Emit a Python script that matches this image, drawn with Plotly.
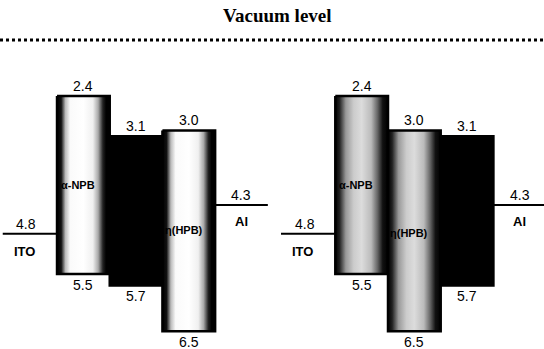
import plotly.graph_objects as go

# ---- data ----
left_names = ["α-NPB", "", "η(HPB)"]
left_lumo = [2.4, 3.1, 3.0]
left_homo = [5.5, 5.7, 6.5]
left_kind = ["light", "dark", "light"]

right_names = ["α-NPB", "η(HPB)", ""]
right_lumo = [2.4, 3.0, 3.1]
right_homo = [5.5, 6.5, 5.7]
right_kind = ["grey", "grey", "dark"]

ito_wf = 4.8
al_wf = 4.3
title_text = "Vacuum level"

# ---- styling / layout ----
light_scale = [[0, "#000"], [0.08, "#111"], [0.16, "#bbb"], [0.25, "#fafafa"], [0.5, "#fff"],
               [0.68, "#f0f0f0"], [0.78, "#aaa"], [0.87, "#222"], [0.93, "#000"], [1, "#000"]]
grey_scale = [[0, "#000"], [0.08, "#222"], [0.2, "#999"], [0.35, "#ccc"], [0.5, "#dcdcdc"],
              [0.68, "#bbb"], [0.8, "#666"], [0.9, "#111"], [1, "#000"]]
dark_scale = [[0, "#000"], [1, "#000"]]
scales = {"light": light_scale, "grey": grey_scale, "dark": dark_scale}

num_font = dict(family="Liberation Sans Narrow, Liberation Sans, Arial", size=14, color="black")
lab_font = dict(family="Liberation Sans, Arial", size=13, color="black")
name_font = dict(family="Liberation Sans Narrow, Liberation Sans, Arial", size=11, color="black")

fig = go.Figure()
annotations = []

def add_diagram(x0, names, lumo, homo, kinds, name_y):
    fig.add_trace(go.Scatter(x=[x0 - 1.03, x0], y=[ito_wf, ito_wf], mode="lines",
                             line=dict(color="black", width=2), hoverinfo="skip"))
    annotations.append(dict(x=x0 - 0.58, y=ito_wf, text=f"{ito_wf:.1f}", showarrow=False,
                            yanchor="bottom", yshift=0, font=num_font))
    annotations.append(dict(x=x0 - 0.62, y=ito_wf, text="<b>ITO</b>", showarrow=False,
                            yanchor="top", yshift=-8, font=lab_font))
    n = len(names)
    for i in range(n):
        xa, xb = x0 + i, x0 + i + 1
        fig.add_trace(go.Scatter(
            x=[xa, xb, xb, xa, xa], y=[lumo[i], lumo[i], homo[i], homo[i], lumo[i]],
            mode="lines", fill="toself",
            fillgradient=dict(type="horizontal", colorscale=scales[kinds[i]]),
            line=dict(color="black", width=2.5), hoverinfo="skip"))
        xc = (xa + xb) / 2
        annotations.append(dict(x=xc, y=lumo[i], text=f"{lumo[i]:.1f}", showarrow=False,
                                yanchor="bottom", yshift=0, font=num_font))
        annotations.append(dict(x=xc, y=homo[i], text=f"{homo[i]:.1f}", showarrow=False,
                                yanchor="top", yshift=-1, font=num_font))
        if names[i]:
            annotations.append(dict(x=xc - 0.1, y=name_y[i], text=f"<b>{names[i]}</b>",
                                    showarrow=False, font=name_font))
    xe = x0 + n
    fig.add_trace(go.Scatter(x=[xe, xe + 1.0], y=[al_wf, al_wf], mode="lines",
                             line=dict(color="black", width=2), hoverinfo="skip"))
    annotations.append(dict(x=xe + 0.5, y=al_wf, text=f"{al_wf:.1f}", showarrow=False,
                            yanchor="bottom", yshift=0, font=num_font))
    annotations.append(dict(x=xe + 0.5, y=al_wf, text="<b>Al</b>", showarrow=False,
                            yanchor="top", yshift=-7, font=lab_font))

add_diagram(0.0, left_names, left_lumo, left_homo, left_kind, [3.95, 0, 4.73])
add_diagram(5.28, right_names, right_lumo, right_homo, right_kind, [3.95, 4.78, 0])

annotations.append(dict(x=0.511, y=1.0, xref="paper", yref="paper", yanchor="top", yshift=-3,
                        text="<b>" + title_text + "</b>", showarrow=False,
                        font=dict(family="Liberation Serif, Times New Roman, serif", size=19,
                                  color="black")))

fig.update_layout(
    width=544, height=349,
    margin=dict(l=0, r=0, t=0, b=0),
    paper_bgcolor="white", plot_bgcolor="white",
    showlegend=False,
    annotations=annotations,
    xaxis=dict(range=[-1.082, 9.24], visible=False, fixedrange=True),
    yaxis=dict(range=[6.808, 0.728], visible=False, fixedrange=True),
    shapes=[dict(type="line", xref="paper", yref="paper", x0=0, x1=1, y0=1 - 40 / 349,
                 y1=1 - 40 / 349, line=dict(color="black", width=3, dash="dot"))],
)

fig.write_html("out.html", config={"displayModeBar": False},
               post_script="document.body.style.margin='0px';document.body.style.overflow='hidden';")
